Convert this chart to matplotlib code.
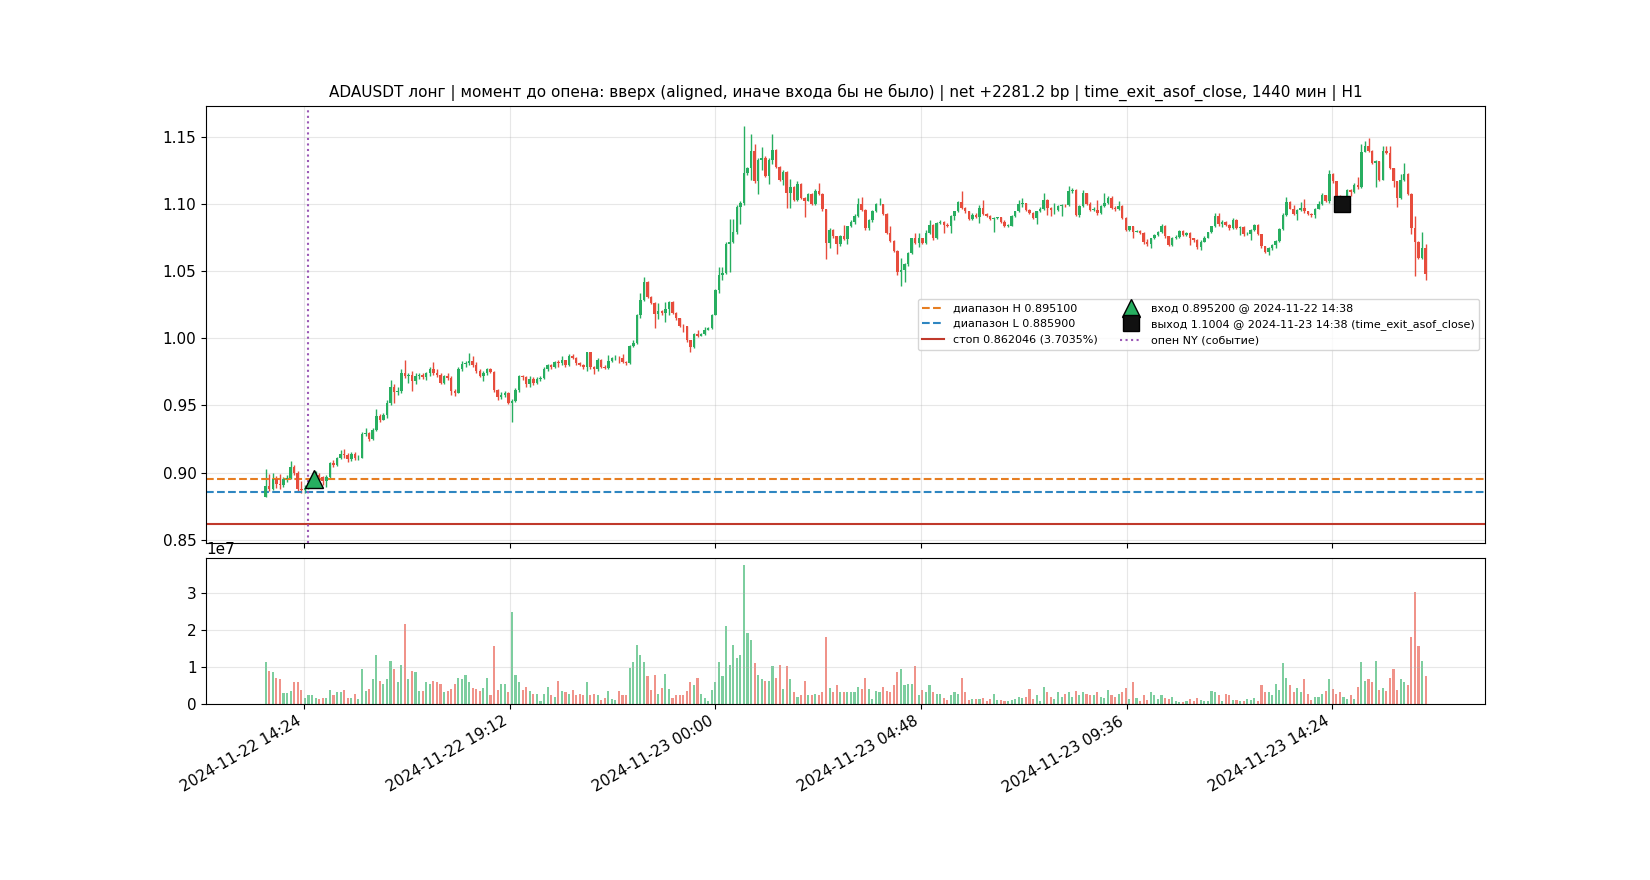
import matplotlib
matplotlib.use("Agg")
import matplotlib.pyplot as plt
import matplotlib.dates as mdates
import numpy as np
import pandas as pd

# ---------------- data ----------------
start_time = "2024-11-22 13:30"
bar_minutes = 5
first_open = 0.8821

close = [
    .8900, .8880, .8955, .8915, .8905, .8950, .8960, .9040, .9000, .8880,
    .8870, .8885, .8920, .8945, .8985, .8965, .8935, .8970, .9075, .9060,
    .9105, .9140, .9130, .9100, .9140, .9105, .9110, .9290, .9295, .9250,
    .9320, .9420, .9395, .9430, .9520, .9640, .9600, .9605, .9745, .9720,
    .9725, .9680, .9720, .9730, .9715, .9740, .9770, .9740, .9730, .9670,
    .9720, .9705, .9610, .9595, .9770, .9810, .9815, .9830, .9800, .9760,
    .9720, .9745, .9770, .9750, .9615, .9560, .9580, .9595, .9520, .9535,
    .9615, .9720, .9710, .9660, .9700, .9670, .9695, .9705, .9770, .9800,
    .9785, .9820, .9815, .9835, .9800, .9870, .9855, .9815, .9805, .9790,
    .9895, .9790, .9770, .9840, .9790, .9780, .9830, .9850, .9855, .9850,
    .9825, .9815, .9940, .9965, 1.0170, 1.0285, 1.0420, 1.0310, 1.0265, 1.0180,
    1.0205, 1.0185, 1.0220, 1.0270, 1.0190, 1.0150, 1.0095, 1.0090, .9985, .9935,
    1.0035, 1.0020, 1.0030, 1.0065, 1.0075, 1.0175, 1.0360, 1.0470, 1.0490, 1.0700,
    1.0715, 1.0790, 1.0975, 1.1005, 1.1230, 1.1265, 1.1395, 1.1170, 1.1330, 1.1345,
    1.1210, 1.1330, 1.1405, 1.1275, 1.1180, 1.1240, 1.1085, 1.1130, 1.1030, 1.1150,
    1.1045, 1.1025, 1.1075, 1.1000, 1.1100, 1.1075, 1.0960, 1.0710, 1.0810, 1.0760,
    1.0700, 1.0765, 1.0740, 1.0835, 1.0870, 1.0910, 1.1000, 1.0958, 1.0820, 1.0878,
    1.0945, 1.1000, 1.1000, 1.0928, 1.0788, 1.0728, 1.0652, 1.0495, 1.0512, 1.0552,
    1.0637, 1.0745, 1.0712, 1.0745, 1.0712, 1.0783, 1.0845, 1.0745, 1.0858, 1.0870,
    1.0845, 1.0840, 1.0913, 1.0945, 1.1013, 1.0970, 1.0945, 1.0888, 1.0920, 1.0905,
    1.0968, 1.0928, 1.0913, 1.0888, 1.0895, 1.0900, 1.0870, 1.0838, 1.0838, 1.0908,
    1.0945, 1.1003, 1.1008, 1.0958, 1.0933, 1.0895, 1.0945, 1.0963, 1.1033, 1.0970,
    1.0953, 1.0958, 1.0983, 1.0995, 1.0990, 1.1095, 1.1108, 1.0920, 1.0983, 1.1083,
    1.1003, 1.0958, 1.0958, 1.0933, 1.0983, 1.1008, 1.1045, 1.0970, 1.0963, 1.0988,
    1.0895, 1.0808, 1.0833, 1.0795, 1.0800, 1.0783, 1.0720, 1.0700, 1.0746, 1.0771,
    1.0790, 1.0840, 1.0760, 1.0697, 1.0746, 1.0758, 1.0800, 1.0771, 1.0785, 1.0746,
    1.0734, 1.0677, 1.0721, 1.0750, 1.0790, 1.0833, 1.0908, 1.0850, 1.0870, 1.0845,
    1.0821, 1.0883, 1.0821, 1.0830, 1.0776, 1.0776, 1.0810, 1.0846, 1.0776, 1.0684,
    1.0642, 1.0672, 1.0697, 1.0726, 1.0815, 1.0915, 1.1015, 1.0965, 1.0925, 1.0958,
    1.0970, 1.0945, 1.0925, 1.0915, 1.0965, 1.1000, 1.1065, 1.1025, 1.1224, 1.1169,
    1.1057, 1.1005, 1.1030, 1.1107, 1.1090, 1.1144, 1.1124, 1.1388, 1.1430, 1.1398,
    1.1306, 1.1318, 1.1182, 1.1398, 1.1381, 1.1269, 1.1169, 1.1045, 1.1182, 1.1224,
    1.1075, 1.0821, 1.0721, 1.0597, 1.0672, 1.0478,
]

high = [
    .9025, .8990, .9000, .8975, .8990, .8970, .8980, .9085, .9060, .9015,
    .8935, .8905, .8945, .8960, .9010, .9000, .8975, .8985, .9080, .9095,
    .9115, .9170, .9175, .9145, .9155, .9150, .9130, .9300, .9330, .9300,
    .9335, .9470, .9440, .9445, .9540, .9690, .9660, .9640, .9770, .9840,
    .9745, .9755, .9740, .9740, .9740, .9750, .9790, .9820, .9770, .9740,
    .9730, .9740, .9720, .9620, .9790, .9830, .9830, .9890, .9870, .9820,
    .9770, .9760, .9780, .9780, .9760, .9620, .9600, .9610, .9600, .9545,
    .9630, .9730, .9730, .9720, .9720, .9710, .9710, .9720, .9790, .9810,
    .9810, .9830, .9835, .9870, .9840, .9880, .9885, .9860, .9825, .9810,
    .9900, .9900, .9795, .9850, .9845, .9800, .9875, .9860, .9875, .9870,
    .9885, .9830, .9950, .9990, 1.0180, 1.0335, 1.0455, 1.0425, 1.0315, 1.0270,
    1.0265, 1.0210, 1.0270, 1.0280, 1.0275, 1.0195, 1.0155, 1.0105, 1.0095, .9990,
    1.0040, 1.0060, 1.0040, 1.0085, 1.0085, 1.0180, 1.0370, 1.0530, 1.0530, 1.0720,
    1.0885, 1.0890, 1.0990, 1.1020, 1.1585, 1.1275, 1.1525, 1.1445, 1.1340, 1.1425,
    1.1360, 1.1345, 1.1525, 1.1410, 1.1280, 1.1250, 1.1245, 1.1190, 1.1135, 1.1175,
    1.1160, 1.1055, 1.1080, 1.1080, 1.1110, 1.1160, 1.1080, 1.0965, 1.0820, 1.0815,
    1.0765, 1.0770, 1.0845, 1.0840, 1.0880, 1.0925, 1.1045, 1.1050, 1.0960, 1.0885,
    1.0958, 1.1008, 1.1045, 1.1000, 1.0935, 1.0833, 1.0735, 1.0655, 1.0600, 1.0560,
    1.0645, 1.0750, 1.0783, 1.0783, 1.0750, 1.0808, 1.0883, 1.0850, 1.0865, 1.0883,
    1.0875, 1.0860, 1.0920, 1.0950, 1.1020, 1.1095, 1.0975, 1.0950, 1.0930, 1.0935,
    1.0995, 1.1030, 1.0935, 1.0918, 1.0900, 1.0905, 1.0905, 1.0880, 1.0850, 1.0915,
    1.0950, 1.1033, 1.1045, 1.1010, 1.0965, 1.0940, 1.0950, 1.0975, 1.1083, 1.1035,
    1.0975, 1.1005, 1.0990, 1.1000, 1.1000, 1.1133, 1.1120, 1.1110, 1.0990, 1.1108,
    1.1085, 1.1015, 1.0980, 1.1033, 1.0990, 1.1083, 1.1060, 1.1063, 1.0985, 1.1020,
    1.0995, 1.0900, 1.0840, 1.0835, 1.0810, 1.0810, 1.0790, 1.0740, 1.0750, 1.0780,
    1.0800, 1.0853, 1.0845, 1.0765, 1.0755, 1.0770, 1.0810, 1.0805, 1.0795, 1.0795,
    1.0750, 1.0740, 1.0730, 1.0760, 1.0795, 1.0840, 1.0930, 1.0935, 1.0880, 1.0875,
    1.0850, 1.0895, 1.0890, 1.0835, 1.0835, 1.0790, 1.0815, 1.0850, 1.0850, 1.0780,
    1.0690, 1.0680, 1.0705, 1.0735, 1.0820, 1.0935, 1.1050, 1.1020, 1.0990, 1.0965,
    1.1015, 1.1040, 1.0950, 1.0930, 1.0970, 1.1025, 1.1080, 1.1070, 1.1255, 1.1230,
    1.1170, 1.1065, 1.1050, 1.1110, 1.1112, 1.1155, 1.1205, 1.1445, 1.1470, 1.1495,
    1.1400, 1.1330, 1.1320, 1.1430, 1.1435, 1.1430, 1.1270, 1.1175, 1.1225, 1.1305,
    1.1230, 1.1080, 1.0910, 1.0725, 1.0790, 1.0700,
]

low = [
    .8815, .8860, .8870, .8885, .8875, .8890, .8930, .8955, .8980, .8865,
    .8845, .8850, .8880, .8900, .8930, .8940, .8910, .8890, .8960, .9040,
    .9050, .9100, .9110, .9080, .9090, .9095, .9095, .9110, .9270, .9235,
    .9240, .9310, .9380, .9390, .9410, .9500, .9520, .9580, .9590, .9705,
    .9670, .9610, .9660, .9700, .9700, .9690, .9720, .9730, .9715, .9660,
    .9660, .9690, .9580, .9570, .9590, .9760, .9790, .9800, .9790, .9740,
    .9710, .9680, .9730, .9740, .9600, .9540, .9550, .9560, .9510, .9375,
    .9525, .9600, .9690, .9640, .9640, .9650, .9660, .9680, .9700, .9760,
    .9770, .9780, .9790, .9805, .9790, .9795, .9845, .9800, .9795, .9775,
    .9760, .9775, .9735, .9760, .9780, .9770, .9775, .9820, .9840, .9815,
    .9815, .9800, .9810, .9935, .9960, 1.0150, 1.0280, 1.0300, 1.0255, 1.0075,
    1.0145, 1.0170, 1.0120, 1.0175, 1.0180, 1.0140, 1.0085, 1.0050, .9975, .9900,
    .9930, 1.0010, 1.0015, 1.0025, 1.0060, 1.0070, 1.0170, 1.0340, 1.0435, 1.0480,
    1.0495, 1.0710, 1.0780, 1.0850, 1.0995, 1.1220, 1.1180, 1.1160, 1.1075, 1.1250,
    1.1200, 1.1150, 1.1300, 1.1265, 1.1170, 1.1140, 1.0970, 1.0970, 1.1020, 1.1025,
    1.1040, 1.0900, 1.1020, 1.0990, 1.0995, 1.1070, 1.0950, 1.0590, 1.0670, 1.0750,
    1.0630, 1.0690, 1.0730, 1.0700, 1.0830, 1.0850, 1.0905, 1.0945, 1.0808, 1.0810,
    1.0870, 1.0940, 1.0990, 1.0920, 1.0780, 1.0718, 1.0640, 1.0470, 1.0388, 1.0420,
    1.0540, 1.0630, 1.0700, 1.0683, 1.0700, 1.0700, 1.0775, 1.0735, 1.0740, 1.0850,
    1.0788, 1.0830, 1.0783, 1.0880, 1.0940, 1.0960, 1.0935, 1.0880, 1.0880, 1.0895,
    1.0860, 1.0920, 1.0905, 1.0880, 1.0795, 1.0885, 1.0860, 1.0830, 1.0830, 1.0835,
    1.0900, 1.0940, 1.0980, 1.0950, 1.0925, 1.0890, 1.0850, 1.0940, 1.0955, 1.0920,
    1.0910, 1.0925, 1.0950, 1.0910, 1.0975, 1.0985, 1.1085, 1.0910, 1.0900, 1.0975,
    1.0995, 1.0950, 1.0950, 1.0920, 1.0925, 1.0980, 1.1000, 1.0960, 1.0950, 1.0955,
    1.0885, 1.0800, 1.0800, 1.0745, 1.0790, 1.0775, 1.0705, 1.0690, 1.0672, 1.0740,
    1.0765, 1.0785, 1.0750, 1.0690, 1.0690, 1.0740, 1.0750, 1.0760, 1.0765, 1.0697,
    1.0720, 1.0665, 1.0660, 1.0715, 1.0745, 1.0785, 1.0830, 1.0840, 1.0830, 1.0835,
    1.0810, 1.0815, 1.0815, 1.0770, 1.0765, 1.0770, 1.0735, 1.0800, 1.0770, 1.0675,
    1.0635, 1.0622, 1.0660, 1.0672, 1.0720, 1.0810, 1.0910, 1.0960, 1.0915, 1.0880,
    1.0950, 1.0935, 1.0915, 1.0905, 1.0895, 1.0960, 1.0995, 1.1015, 1.1010, 1.1160,
    1.1045, 1.0990, 1.0995, 1.1025, 1.1060, 1.1085, 1.1115, 1.1120, 1.1385, 1.1390,
    1.1295, 1.1130, 1.1175, 1.1180, 1.1375, 1.1260, 1.1130, 1.0975, 1.1040, 1.1175,
    1.1070, 1.0780, 1.0465, 1.0590, 1.0590, 1.0435,
]

# volume in millions of ADA per 5-minute bar
volume_m = [
    11.2, 9.0, 8.5, 6.9, 6.6, 2.9, 2.9, 3.6, 5.8, 5.8,
    3.9, 1.5, 2.5, 2.3, 1.7, 1.4, 1.7, 1.7, 3.9, 2.3,
    3.3, 3.3, 3.9, 1.7, 1.7, 2.8, 1.4, 9.3, 3.6, 4.1,
    6.8, 13.3, 6.3, 5.5, 6.6, 11.7, 9.3, 5.8, 10.4, 21.4,
    6.6, 9.0, 8.5, 3.6, 3.6, 6.0, 5.5, 6.3, 5.8, 5.5,
    3.3, 3.6, 4.1, 5.5, 7.1, 6.8, 7.9, 5.8, 4.4, 4.1,
    3.6, 4.4, 7.1, 2.5, 15.5, 3.9, 5.5, 5.5, 3.1, 24.7,
    7.7, 5.8, 3.9, 4.7, 3.6, 2.8, 2.8, 0.9, 2.8, 4.7,
    2.5, 2.0, 6.3, 3.6, 3.1, 2.8, 3.9, 2.5, 2.8, 2.3,
    6.0, 2.3, 2.8, 2.3, 1.2, 1.7, 3.6, 1.4, 1.2, 3.6,
    2.3, 2.5, 9.8, 11.4, 16.0, 13.1, 11.2, 7.4, 3.9, 7.9,
    2.8, 4.4, 8.2, 4.1, 1.7, 2.3, 2.5, 2.5, 3.6, 5.8,
    5.2, 7.1, 2.8, 1.7, 0.9, 3.9, 5.8, 11.4, 7.4, 20.9,
    10.6, 16.0, 12.3, 13.1, 37.4, 19.0, 17.1, 10.9, 7.9, 6.6,
    6.3, 6.3, 10.1, 7.1, 10.6, 4.1, 10.1, 6.6, 3.3, 2.0,
    2.5, 6.3, 2.3, 2.3, 2.8, 2.5, 3.3, 17.9, 4.4, 3.3,
    5.0, 3.3, 3.3, 3.1,
    3.1, 3.3, 4.7, 4.1, 7.1, 4.1, 1.4, 3.6, 3.3,
    4.7, 3.6, 3.3, 5.2, 8.7, 9.3, 5.2, 5.5, 5.5, 10.1,
    2.5, 3.9, 3.3, 5.0, 3.3, 2.8, 2.8, 1.7, 1.2, 2.3,
    3.1, 2.8, 7.1, 3.3, 1.2, 1.4, 1.4, 1.4, 1.7, 0.9,
    1.4, 2.8, 1.2, 1.2, 0.9, 0.9, 1.2, 1.4, 2.0, 1.7,
    2.0, 4.1, 1.4, 2.5, 0.9, 4.7, 3.1, 2.0, 1.4, 3.1,
    2.0, 2.8, 3.3, 2.0, 3.6, 2.3, 3.3, 2.8, 2.5, 2.5,
    3.1, 2.0, 1.7, 3.9, 2.3, 2.0, 2.8, 3.1, 4.4, 1.4,
    6.0, 1.7, 0.9, 2.5, 1.2, 3.1, 2.5, 1.4, 2.5, 1.7,
    1.4, 2.0, 0.9, 0.6, 0.6, 0.9, 1.4, 0.9, 1.7, 1.2,
    0.9, 0.9, 3.6, 3.1, 2.3, 0.9, 2.8, 2.3, 1.2, 1.2,
    0.9, 0.9, 1.4, 1.2, 1.7, 0.9, 5.2, 3.3, 3.3, 2.5,
    5.5, 3.9, 10.9, 7.1, 5.0, 3.1, 4.4, 3.3, 6.8, 2.8,
    1.2, 2.0, 2.0, 2.8, 3.6, 6.8, 4.1, 2.8, 3.3, 2.0,
    1.4, 2.3, 1.4, 4.7, 11.2, 6.3, 6.8, 5.8, 11.7, 3.9,
    4.4, 3.6, 7.1, 9.3, 3.9, 6.6, 5.8, 5.2, 17.9, 30.1,
    15.5, 11.7, 7.4,
]

range_high = 0.895100
range_low = 0.885900
stop_price = 0.862046
stop_pct = 3.7035
entry_price = 0.895200
entry_time = "2024-11-22 14:38"
exit_price = 1.1004
exit_time = "2024-11-23 14:38"
ny_open_time = "2024-11-22 14:30"

title = ("ADAUSDT лонг | момент до опена: вверх (aligned, иначе входа бы не было) | "
         "net +2281.2 bp | time_exit_asof_close, 1440 мин | H1")

# ---------------- plot ----------------
plt.rcParams["xtick.labelsize"] = 11
plt.rcParams["ytick.labelsize"] = 11

GREEN = "#27ae60"
RED = "#e74c3c"

n = len(close)
times = pd.date_range(start_time, periods=n, freq=f"{bar_minutes}min")
x = mdates.date2num(times.to_pydatetime())
c = np.array(close)
o = np.array([first_open] + close[:-1])
h = np.array(high[:n])
l = np.array(low[:n])
vol = np.array(volume_m[:n]) * 1e6
up = c >= o
cols = np.where(up, GREEN, RED)

fig, (ax1, ax2) = plt.subplots(
    2, 1, sharex=True, figsize=(16.5, 8.8), dpi=100,
    gridspec_kw=dict(height_ratios=[3, 1], hspace=0.05))

bar_w = bar_minutes / 1440.0 * 0.7
ax1.vlines(x, l, h, colors=cols, linewidth=1.0, zorder=2)
body_h = np.maximum(np.abs(c - o), 0.0003)
ax1.bar(x, body_h, bottom=np.minimum(o, c), width=bar_w, color=cols,
        linewidth=0, zorder=3)

lh = ax1.axhline(range_high, color="#e67e22", ls="--", lw=1.5,
                 label=f"диапазон H {range_high:.6f}")
ll = ax1.axhline(range_low, color="#2e86c1", ls="--", lw=1.5,
                 label=f"диапазон L {range_low:.6f}")
ls_ = ax1.axhline(stop_price, color="#c0392b", ls="-", lw=1.5,
                  label=f"стоп {stop_price:.6f} ({stop_pct:.4f}%)")
ny = ax1.axvline(mdates.date2num(pd.Timestamp(ny_open_time).to_pydatetime()),
                 color="#9b59b6", ls=":", lw=1.5, label="опен NY (событие)")
en, = ax1.plot([mdates.date2num(pd.Timestamp(entry_time).to_pydatetime())],
               [entry_price], marker="^", ms=13.5, color=GREEN, mec="black",
               mew=1.0, ls="none", zorder=5,
               label=f"вход {entry_price:.6f} @ {entry_time}")
ex, = ax1.plot([mdates.date2num(pd.Timestamp(exit_time).to_pydatetime())],
               [exit_price], marker="s", ms=11, color="#111111", mec="black",
               ls="none", zorder=5,
               label=f"выход {exit_price:.4f} @ {exit_time} (time_exit_asof_close)")

ax1.legend(handles=[lh, ll, ls_, en, ex, ny], loc="center right", ncol=2,
           fontsize=8)
ax1.set_title(title, fontsize=11)
ax1.grid(True, alpha=0.3)

ax2.bar(x, vol, width=bar_w * 0.85, color=cols, alpha=0.6, linewidth=0)
ax2.grid(True, alpha=0.3)
ax2.yaxis.get_offset_text().set_fontsize(11)

ax2.xaxis.set_major_formatter(mdates.DateFormatter("%Y-%m-%d %H:%M"))
fig.autofmt_xdate()

fig.savefig("out.png", dpi=100)
